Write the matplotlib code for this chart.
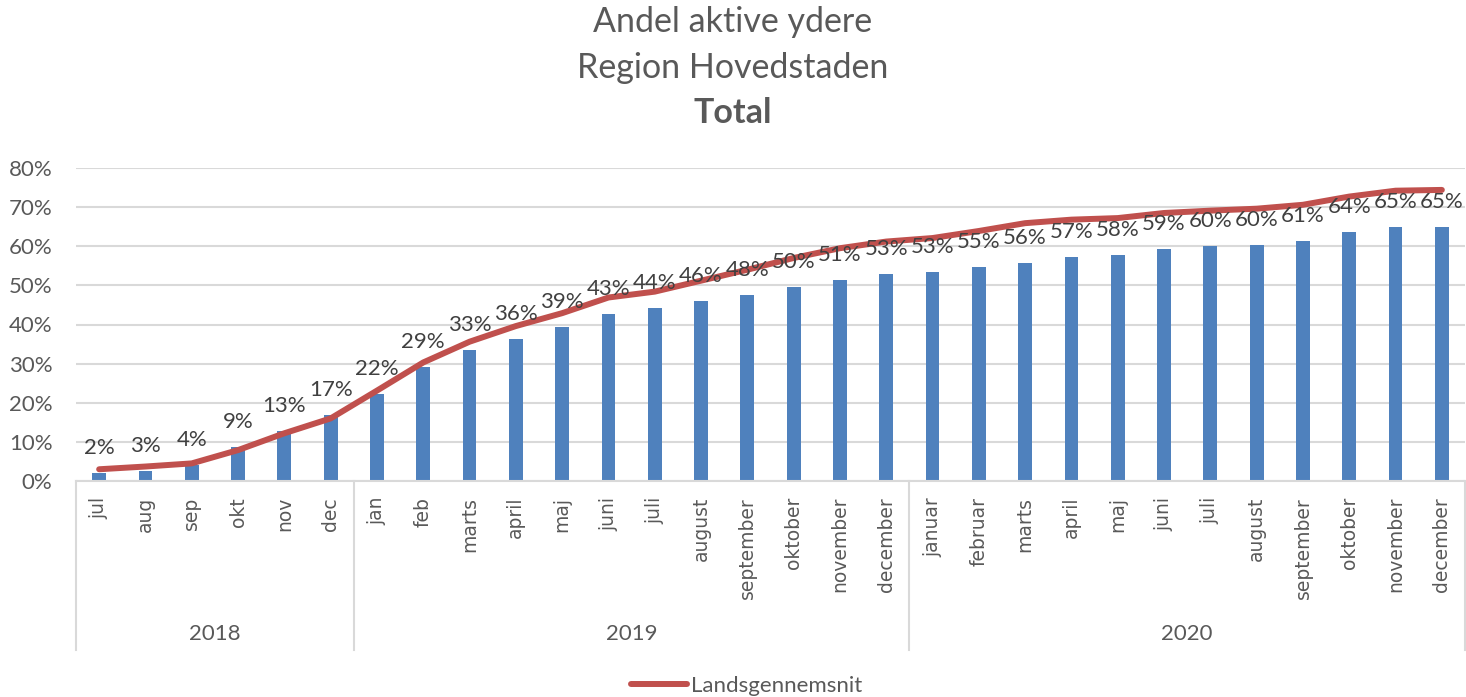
import numpy as np
import matplotlib.pyplot as plt
import matplotlib.transforms as mtransforms
from matplotlib.ticker import PercentFormatter
from matplotlib.lines import Line2D

plt.rcParams['font.family'] = ['Lato', 'DejaVu Sans']

# data
maaneder = ['jul', 'aug', 'sep', 'okt', 'nov', 'dec',
            'jan', 'feb', 'marts', 'april', 'maj', 'juni', 'juli', 'august',
            'september', 'oktober', 'november', 'december',
            'januar', 'februar', 'marts', 'april', 'maj', 'juni', 'juli', 'august',
            'september', 'oktober', 'november', 'december']
aar = ['2018', '2019', '2020']
antal_pr_aar = [6, 12, 12]

region = [2.1, 2.6, 4.1, 8.6, 12.9, 16.9,
          22.3, 29.2, 33.4, 36.4, 39.4, 42.8, 44.1, 46.0, 47.6, 49.7, 51.3, 52.9,
          53.3, 54.6, 55.8, 57.3, 57.7, 59.3, 60.0, 60.4, 61.4, 63.6, 65.0, 65.0]
landsgennemsnit = [3.0, 3.7, 4.5, 7.9, 12.2, 16.0,
                   23.1, 30.3, 35.6, 39.6, 42.9, 46.9, 48.4, 51.2, 54.0, 57.0, 59.5, 61.2,
                   62.1, 63.9, 65.9, 66.8, 67.2, 68.5, 69.1, 69.6, 70.6, 72.7, 74.2, 74.4]

region = np.array(region) / 100
landsgennemsnit = np.array(landsgennemsnit) / 100
x = np.arange(len(maaneder))

bla = '#4F81BD'
rod = '#C0504D'
graa = '#D9D9D9'
tekst = '#595959'

fig = plt.figure(figsize=(14.66, 6.97), dpi=100)
ax = fig.add_axes([76 / 1466, 1 - 481 / 697, (1465 - 76) / 1466, 313 / 697])

ax.bar(x, region, width=0.3, color=bla, zorder=2)
ax.plot(x, landsgennemsnit, color=rod, lw=4.3, solid_capstyle='round', zorder=3)

for i, v in enumerate(region):
    ax.annotate(f'{round(v * 100):.0f}%', (x[i], v), xytext=(0, 25),
                textcoords='offset pixels', ha='center', va='center',
                fontsize=16, color='#404040', zorder=4)

ax.set_xlim(-0.5, len(maaneder) - 0.5)
ax.set_ylim(0, 0.8)
ax.set_yticks(np.arange(0, 0.81, 0.1))
ax.yaxis.set_major_formatter(PercentFormatter(1.0, decimals=0))
ax.grid(axis='y', color=graa, lw=1.5, zorder=0)
ax.set_axisbelow(True)
for s in ['top', 'right', 'left']:
    ax.spines[s].set_visible(False)
ax.spines['bottom'].set_color(graa)
ax.spines['bottom'].set_linewidth(1.5)

ax.set_xticks([])
ax.tick_params(axis='y', length=0, pad=17, labelsize=16, labelcolor=tekst)

# maaneder og aar-grupper under aksen
trans = mtransforms.blended_transform_factory(ax.transData, ax.transAxes)
for i, m in enumerate(maaneder):
    ax.text(x[i], -0.051, m, transform=trans, rotation=90, ha='center', va='top',
            fontsize=13.5, color=tekst, family='DejaVu Sans')

grænser = np.concatenate([[0], np.cumsum(antal_pr_aar)]) - 0.5
for g in grænser:
    ax.plot([g, g], [0, -0.54], transform=trans, color=graa, lw=1.5, clip_on=False)
for k, a in enumerate(aar):
    midt = (grænser[k] + grænser[k + 1]) / 2
    ax.text(midt, -0.489, a, transform=trans, ha='center', va='center',
            fontsize=16, color=tekst)

fig.text(0.5, 1 - 22 / 697, 'Andel aktive ydere', ha='center', va='center',
         fontsize=24.5, color=tekst)
fig.text(0.5, 1 - 68 / 697, 'Region Hovedstaden', ha='center', va='center',
         fontsize=24.5, color=tekst)
fig.text(0.5, 1 - 113 / 697, 'Total', ha='center', va='center',
         fontsize=24.5, color=tekst, fontweight='bold')

handle = Line2D([], [], color=rod, lw=4.3, solid_capstyle='round')
fig.legend([handle], ['Landsgennemsnit'], loc='center', bbox_to_anchor=(747 / 1466, 1 - 686 / 697),
           frameon=False, fontsize=16, labelcolor=tekst, handlelength=2.5, handletextpad=0.2)

fig.savefig('out.png', dpi=100)
